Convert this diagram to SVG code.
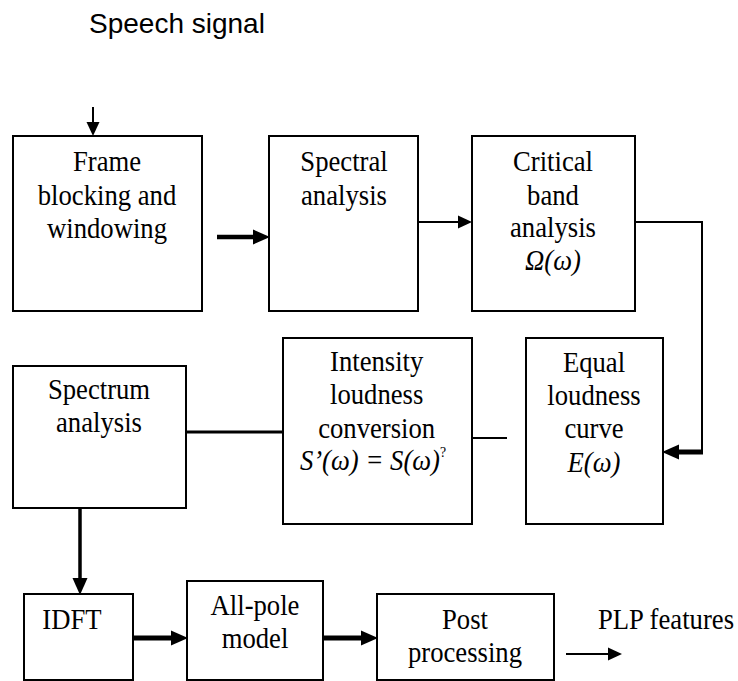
<svg xmlns="http://www.w3.org/2000/svg" width="738" height="681" viewBox="0 0 738 681">
<style>
.box{fill:#fff;stroke:#000;stroke-width:2}
.t{font-family:"Liberation Serif","DejaVu Serif","Times New Roman",serif;font-size:29px;fill:#000;text-anchor:middle}
.i{font-style:italic}
.c{fill:none;stroke:#000}
</style>
<defs>
<marker id="ahThick" markerUnits="userSpaceOnUse" markerWidth="17" markerHeight="16" refX="2" refY="8" orient="auto">
<path d="M0,0.5 L17,8 L0,15.5 z" fill="#000"/>
</marker>
<marker id="ahThin" markerUnits="userSpaceOnUse" markerWidth="14" markerHeight="14" refX="2" refY="7" orient="auto">
<path d="M0,0.5 L14,7 L0,13.5 z" fill="#000"/>
</marker>
</defs>
<rect width="738" height="681" fill="#fff"/>
<text x="89" y="33" style="font-family:'Liberation Sans',Arial,sans-serif;font-size:28px">Speech signal</text>

<g id="connectors">
<line class="c" x1="93" y1="107" x2="93" y2="124" stroke-width="2" marker-end="url(#ahThin)"/>
<line class="c" x1="217" y1="237" x2="255" y2="237" stroke-width="4.5" marker-end="url(#ahThick)"/>
<line class="c" x1="418" y1="222" x2="460" y2="222" stroke-width="2" marker-end="url(#ahThin)"/>
<polyline class="c" points="635,222 702,222 702,452" stroke-width="2"/>
<line class="c" x1="703" y1="452" x2="677" y2="452" stroke-width="5" marker-end="url(#ahThick)"/>
<line class="c" x1="472" y1="438" x2="507" y2="438" stroke-width="2"/>
<line class="c" x1="186" y1="432" x2="283" y2="432" stroke-width="3"/>
<line class="c" x1="80" y1="508" x2="80" y2="580" stroke-width="3.5" marker-end="url(#ahThick)"/>
<line class="c" x1="133" y1="638" x2="173" y2="638" stroke-width="5" marker-end="url(#ahThick)"/>
<line class="c" x1="323" y1="638" x2="363" y2="638" stroke-width="5" marker-end="url(#ahThick)"/>
<line class="c" x1="566" y1="654" x2="610" y2="654" stroke-width="2" marker-end="url(#ahThin)"/>
</g>

<g id="frame">
<rect class="box" x="13" y="136" width="189" height="175"/>
<g transform="translate(107,0) scale(0.92,1)">
<text class="t" x="0" y="171">Frame</text>
<text class="t" x="0" y="205">blocking and</text>
<text class="t" x="0" y="238">windowing</text>
</g>
</g>
<g id="spectral">
<rect class="box" x="269" y="136" width="149" height="175"/>
<g transform="translate(344,0) scale(0.92,1)">
<text class="t" x="0" y="171">Spectral</text>
<text class="t" x="0" y="205">analysis</text>
</g>
</g>
<g id="critical">
<rect class="box" x="472" y="136" width="163" height="175"/>
<g transform="translate(553,0) scale(0.92,1)">
<text class="t" x="0" y="171">Critical</text>
<text class="t" x="0" y="205">band</text>
<text class="t" x="0" y="237">analysis</text>
<text class="t i" x="0" y="270">Ω(ω)</text>
</g>
</g>
<g id="spectrum">
<rect class="box" x="13" y="366" width="173" height="142"/>
<g transform="translate(99,0) scale(0.92,1)">
<text class="t" x="0" y="399">Spectrum</text>
<text class="t" x="0" y="432">analysis</text>
</g>
</g>
<g id="intensity">
<rect class="box" x="283" y="338" width="189" height="186"/>
<g transform="translate(373,0) scale(0.92,1)">
<text class="t" x="4" y="371">Intensity</text>
<text class="t" x="4" y="404">loudness</text>
<text class="t" x="4" y="438">conversion</text>
<text class="t" x="0" y="470"><tspan class="i">S’(ω) = S(ω)</tspan><tspan dy="-13" font-size="15">?</tspan></text>
</g>
</g>
<g id="equal">
<rect class="box" x="526" y="338" width="137" height="186"/>
<g transform="translate(594,0) scale(0.92,1)">
<text class="t" x="0" y="372">Equal</text>
<text class="t" x="0" y="405">loudness</text>
<text class="t" x="0" y="438">curve</text>
<text class="t i" x="0" y="472">E(ω)</text>
</g>
</g>
<g id="idft">
<rect class="box" x="24" y="594" width="109" height="86"/>
<g transform="translate(72,0) scale(0.92,1)">
<text class="t" x="0" y="629">IDFT</text>
</g>
</g>
<g id="allpole">
<rect class="box" x="187" y="581" width="136" height="99"/>
<g transform="translate(255,0) scale(0.92,1)">
<text class="t" x="0" y="615">All-pole</text>
<text class="t" x="0" y="648">model</text>
</g>
</g>
<g id="post">
<rect class="box" x="377" y="594" width="177" height="86"/>
<g transform="translate(465,0) scale(0.92,1)">
<text class="t" x="0" y="629">Post</text>
<text class="t" x="0" y="662">processing</text>
</g>
</g>
<g transform="translate(666,0) scale(0.92,1)">
<text class="t" x="0" y="629">PLP features</text>
</g>
</svg>
